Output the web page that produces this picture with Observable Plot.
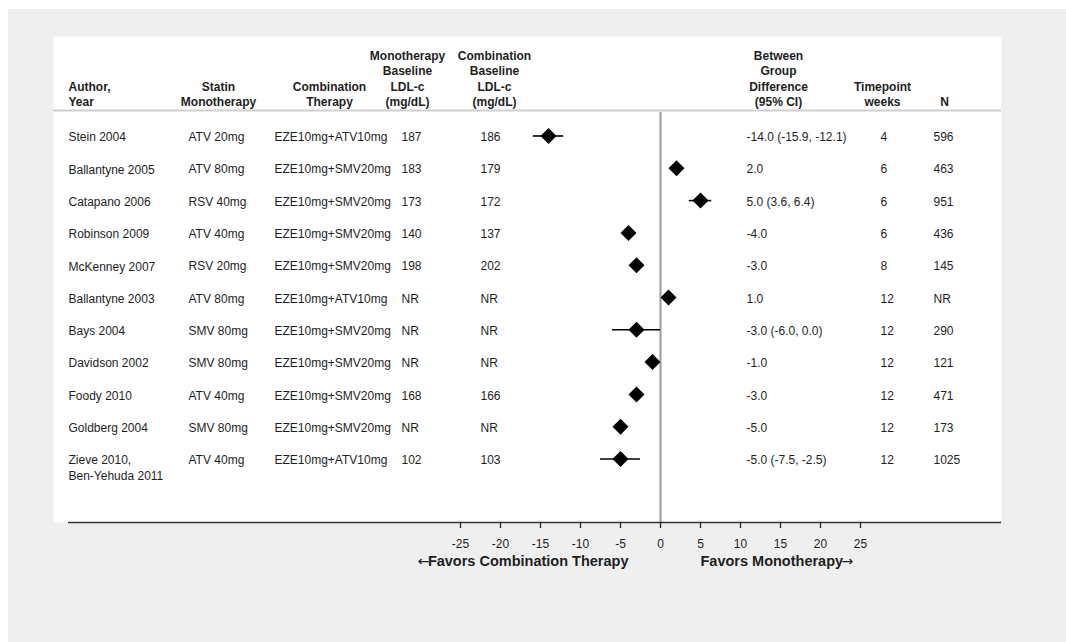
<!DOCTYPE html>
<html>
<head>
<meta charset="utf-8">
<script src="https://cdn.jsdelivr.net/npm/d3@7"></script>
<script src="https://cdn.jsdelivr.net/npm/@observablehq/plot@0.6"></script>
<style>
  html, body { margin: 0; padding: 0; background: #ffffff; }
  #chart { position: absolute; left: 8px; top: 9px; }
</style>
</head>
<body>
<div id="chart"></div>
<script>
// ---- data ----
const authors = ["Stein 2004", "Ballantyne 2005", "Catapano 2006", "Robinson 2009", "McKenney 2007", "Ballantyne 2003", "Bays 2004", "Davidson 2002", "Foody 2010", "Goldberg 2004", "Zieve 2010,\nBen-Yehuda 2011"];
const statins = ["ATV 20mg", "ATV 80mg", "RSV 40mg", "ATV 40mg", "RSV 20mg", "ATV 80mg", "SMV 80mg", "SMV 80mg", "ATV 40mg", "SMV 80mg", "ATV 40mg"];
const combos = ["EZE10mg+ATV10mg", "EZE10mg+SMV20mg", "EZE10mg+SMV20mg", "EZE10mg+SMV20mg", "EZE10mg+SMV20mg", "EZE10mg+ATV10mg", "EZE10mg+SMV20mg", "EZE10mg+SMV20mg", "EZE10mg+SMV20mg", "EZE10mg+SMV20mg", "EZE10mg+ATV10mg"];
const monoBase = ["187", "183", "173", "140", "198", "NR", "NR", "NR", "168", "NR", "102"];
const comboBase = ["186", "179", "172", "137", "202", "NR", "NR", "NR", "166", "NR", "103"];
const diffs = [-14, 2, 5, -4, -3, 1, -3, -1, -3, -5, -5];
const ciLow = [-15.9, null, 3.6, null, null, null, -6, null, null, null, -7.5];
const ciHigh = [-12.1, null, 6.4, null, null, null, 0, null, null, null, -2.5];
const diffLabels = ["-14.0 (-15.9, -12.1)", "2.0", "5.0 (3.6, 6.4)", "-4.0", "-3.0", "1.0", "-3.0 (-6.0, 0.0)", "-1.0", "-3.0", "-5.0", "-5.0 (-7.5, -2.5)"];
const weeks = ["4", "6", "6", "6", "8", "12", "12", "12", "12", "12", "12"];
const ns = ["596", "463", "951", "436", "145", "NR", "290", "121", "471", "173", "1025"];

const headers = ["Author,\nYear", "Statin\nMonotherapy", "Combination\nTherapy", "Monotherapy\nBaseline\nLDL-c\n(mg/dL)", "Combination\nBaseline\nLDL-c\n(mg/dL)", "Between\nGroup\nDifference\n(95% CI)", "Timepoint\nweeks", "N"];
const xTicks = [-25, -20, -15, -10, -5, 0, 5, 10, 15, 20, 25];
const favorsLeft = "Favors Combination Therapy";
const favorsRight = "Favors Monotherapy";

// ---- table built from the arrays ----
const rows = authors.map((a, i) => ({
  i, author: a, statin: statins[i], combo: combos[i], mono: monoBase[i], comb: comboBase[i],
  diff: diffs[i], lo: ciLow[i], hi: ciHigh[i], label: diffLabels[i], wk: weeks[i], n: ns[i]
}));
const ciRows = rows.filter(d => d.lo != null && d.hi != null);

// ---- layout (styles / positions) ----
const font = "'Liberation Sans', Arial, sans-serif";
const ink = "#1e1e1e";
const headerY = -0.93;       // row-index of the header baseline
const headerRuleY = -0.79;   // row-index of the header underline
const yTop = -3.08, yBottom = 11.966;
const dataCols = [
  {key: "author", dx: 15},
  {key: "statin", dx: 135},
  {key: "combo", dx: 221},
  {key: "mono", dx: 348},
  {key: "comb", dx: 427},
  {key: "label", dx: 693},
  {key: "wk", dx: 827},
  {key: "n", dx: 880}
];
const headerCols = [
  {dx: 15, anchor: "start"},
  {dx: 165, anchor: "middle"},
  {dx: 276, anchor: "middle"},
  {dx: 354, anchor: "middle"},
  {dx: 441, anchor: "middle"},
  {dx: 725, anchor: "middle"},
  {dx: 829, anchor: "middle"},
  {dx: 891, anchor: "middle"}
];
const favorsSize = 14.5;

const marks = [
  Plot.frame({fill: "white", stroke: "none"}),
  Plot.ruleY([headerRuleY], {stroke: "#cfcfcf", strokeWidth: 2}),
  Plot.ruleX([0], {stroke: "#9a9a9a", strokeWidth: 2, insetTop: 76}),
  Plot.ruleY([yBottom], {stroke: "#333", strokeWidth: 1.5, insetLeft: 15}),
  Plot.ruleY(ciRows, {y: "i", x1: "lo", x2: "hi", stroke: "black", strokeWidth: 1.6}),
  Plot.dot(rows, {x: "diff", y: "i", symbol: "diamond2", r: 7.2, fill: "black", stroke: "none"}),
  ...headers.map((h, k) => Plot.text([h], {
    y: () => headerY, text: d => d, frameAnchor: "left", dx: headerCols[k].dx,
    textAnchor: headerCols[k].anchor, lineAnchor: "bottom", lineHeight: 1.28,
    fontWeight: "bold", fontSize: 12, fill: ink
  })),
  ...dataCols.map(c => Plot.text(rows, {
    y: "i", text: c.key, frameAnchor: "left", dx: c.dx, textAnchor: "start",
    lineAnchor: c.key === "author" ? "top" : "middle",
    dy: c.key === "author" ? -6 : 0, lineHeight: 1.33,
    fontSize: 12, fill: ink
  })),
  Plot.axisX({ticks: xTicks, tickFormat: d => String(d), tickSize: 6, tickPadding: 11,
    fontSize: 12, stroke: "#222", strokeWidth: 1.3, fill: ink, label: null}),
  // favors labels
  Plot.text([favorsLeft], {x: () => -4, text: d => d, frameAnchor: "bottom", dy: 43,
    textAnchor: "end", fontWeight: "bold", fontSize: favorsSize, fill: ink}),
  Plot.text(["\u2190"], {x: () => -4, text: d => d, frameAnchor: "bottom", dy: 43, dx: -199,
    textAnchor: "end", fontFamily: "'DejaVu Sans'", fontSize: 14, fill: ink}),
  Plot.text([favorsRight], {x: () => 5, text: d => d, frameAnchor: "bottom", dy: 43,
    textAnchor: "start", fontWeight: "bold", fontSize: favorsSize, fill: ink}),
  Plot.text(["\u2192"], {x: () => 5, text: d => d, frameAnchor: "bottom", dy: 43, dx: 141,
    textAnchor: "start", fontFamily: "'DejaVu Sans'", fontSize: 14, fill: ink})
];

const chart = Plot.plot({
  width: 1058,
  height: 633,
  marginLeft: 45,
  marginRight: 65,
  marginTop: 27,
  marginBottom: 120,
  style: {background: "#efefef", fontFamily: font, fontSize: "12px", color: ink},
  x: {domain: [-75.875, 42.625], axis: null},
  y: {domain: [yTop, yBottom], reverse: true, axis: null},
  marks
});
document.getElementById("chart").appendChild(chart);
</script>
</body>
</html>
